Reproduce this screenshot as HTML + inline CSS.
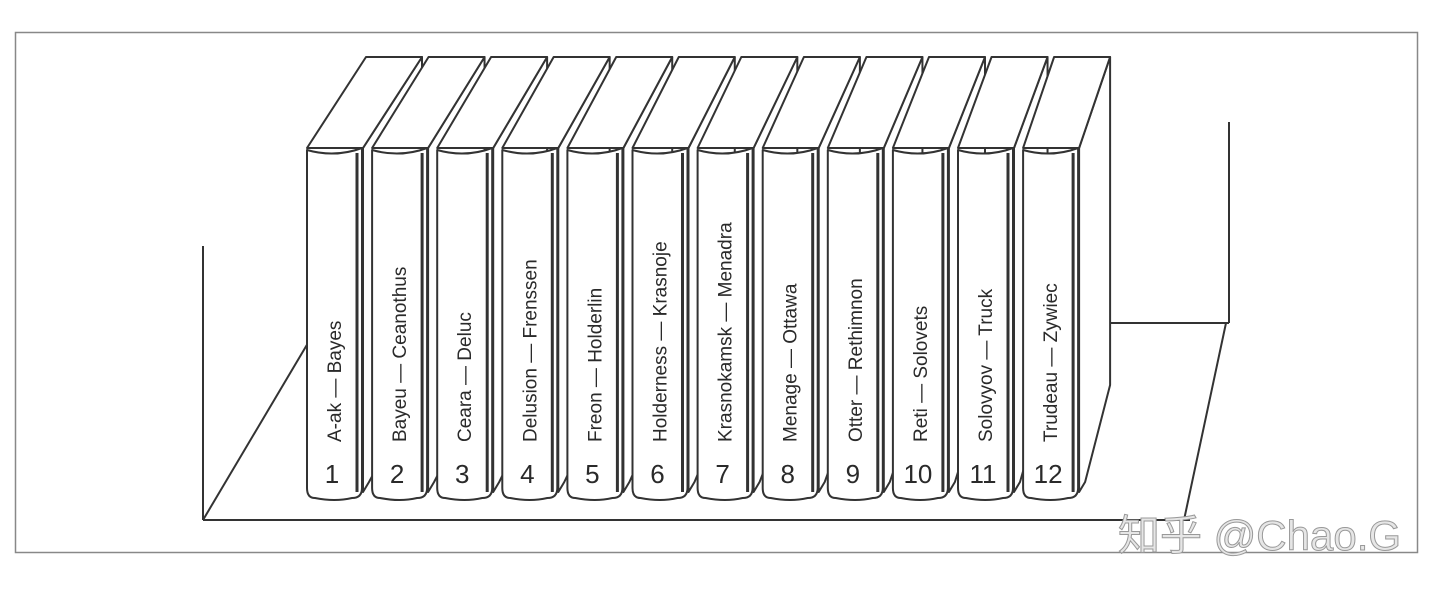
<!DOCTYPE html>
<html><head><meta charset="utf-8"><style>
body{margin:0;background:#fff;width:1440px;height:592px;overflow:hidden}
svg{display:block}
text{font-family:"Liberation Sans","DejaVu Sans",sans-serif;fill:#2a2a2a}
</style></head><body>
<svg width="1440" height="592" viewBox="0 0 1440 592">
<rect x="15.5" y="32.5" width="1402" height="520" fill="none" stroke="#888" stroke-width="1.5"/>
<g stroke="#333" stroke-width="2" fill="none">
<line x1="203" y1="246" x2="203" y2="520"/>
<line x1="203" y1="520" x2="1190" y2="520"/>
<line x1="203" y1="520" x2="308" y2="343"/>
<line x1="1229" y1="122" x2="1229" y2="323"/>
<line x1="1100" y1="323" x2="1229" y2="323"/>
<line x1="1226" y1="323" x2="1184" y2="520"/>
</g>
<g id="books" stroke="#333" stroke-width="2" stroke-linejoin="round" fill="#fff">
</g>
<text x="1118" y="550" font-size="42" style="fill:#e6e6e6;stroke:#999;stroke-width:1" font-family="Liberation Sans,Noto Sans CJK SC,sans-serif">知乎 @Chao.G</text>
</svg>
<script>
var titles=["A-ak — Bayes","Bayeu — Ceanothus","Ceara — Deluc","Delusion — Frenssen","Freon — Holderlin","Holderness — Krasnoje","Krasnokamsk — Menadra","Menage — Ottawa","Otter — Rethimnon","Reti — Solovets","Solovyov — Truck","Trudeau — Zywiec"];
var g=document.getElementById('books'),h='';
for(var i=0;i<12;i++){var x=307+i*65.1;var d=59-i*28/11;
h+='<path d="M'+(x+56)+',148 L'+(x+56+d)+',57 L'+(x+56+d)+',385 L'+(x+62)+',482 L'+(x+56)+',492 Z"/>';
h+='<path d="M'+x+',148 L'+(x+d)+',57 L'+(x+56+d)+',57 L'+(x+56)+',148 Z"/>';
h+='<path d="M'+x+',150 Q'+(x+28)+',158 '+(x+55)+',148 L'+(x+55)+',488 Q'+(x+55)+',498 '+(x+45)+',498 Q'+(x+28)+',502 '+(x+8)+',498 Q'+x+',498 '+x+',488 Z"/>';
h+='<line x1="'+(x+50)+'" y1="153" x2="'+(x+50)+'" y2="492" stroke-width="3"/>';
h+='<text x="'+(x+25)+'" y="483" font-size="26" text-anchor="middle" stroke="none">'+(i+1)+'</text>';
h+='<text transform="translate('+(x+34)+',442) rotate(-90)" font-size="19" stroke="none">'+titles[i]+'</text>';}
g.innerHTML=h;
</script>
</body></html>
